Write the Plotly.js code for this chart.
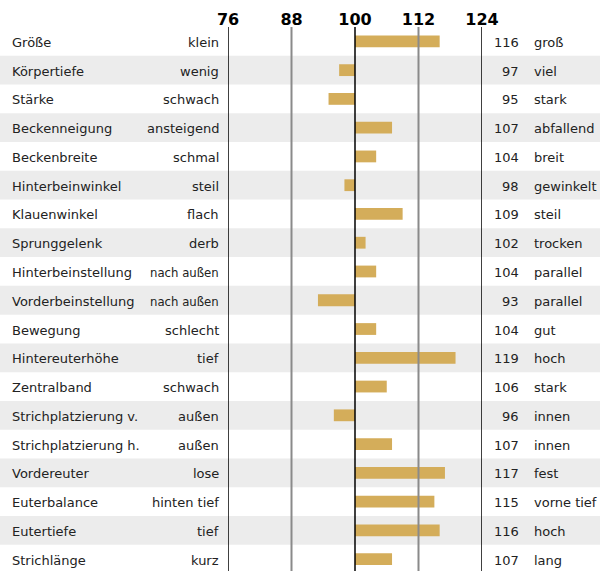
<!DOCTYPE html>
<html>
<head>
<meta charset="utf-8">
<script src="https://cdn.plot.ly/plotly-3.0.1.min.js"></script>
<style>html,body{margin:0;padding:0;background:#fff;}#chart{width:600px;height:571px;}</style>
</head>
<body>
<div id="chart"></div>
<script>
const traits = ["Größe","Körpertiefe","Stärke","Beckenneigung","Beckenbreite","Hinterbeinwinkel","Klauenwinkel","Sprunggelenk","Hinterbeinstellung","Vorderbeinstellung","Bewegung","Hintereuterhöhe","Zentralband","Strichplatzierung v.","Strichplatzierung h.","Vordereuter","Euterbalance","Eutertiefe","Strichlänge"];
const lowLabels = ["klein","wenig","schwach","ansteigend","schmal","steil","flach","derb","nach außen","nach außen","schlecht","tief","schwach","außen","außen","lose","hinten tief","tief","kurz"];
const highLabels = ["groß","viel","stark","abfallend","breit","gewinkelt","steil","trocken","parallel","parallel","gut","hoch","stark","innen","innen","fest","vorne tief","hoch","lang"];
const values = [116,97,95,107,104,98,109,102,104,93,104,119,106,96,107,117,115,116,107];
const tickValues = [76,88,100,112,124];
const baseValue = 100;

const W = 600, H = 571;
const plotL = 228, plotR = 481.7, plotT = 27.25;
const rowH = 28.75;
const plotW = plotR - plotL;
const px2paper = p => (p - plotL) / plotW;
const n = traits.length;
const yBottom = -0.5 + (H - plotT) / rowH;

const textFont = {family: "DejaVu Sans, Liberation Sans, sans-serif", size: 13, color: "#222"};
const condFont = {family: "DejaVu Sans Condensed, Liberation Sans Narrow, sans-serif", size: 13, color: "#222"};

const idx = traits.map((_, i) => i);

const annotations = [];
traits.forEach((t, i) => {
  const common = {xref: "paper", y: i, yref: "y", showarrow: false, yanchor: "middle", borderpad: 0, borderwidth: 0, yshift: -1};
  annotations.push(Object.assign({}, common, {x: px2paper(12), text: t, xanchor: "left", font: textFont}));
  const lf = lowLabels[i].indexOf("nach") === 0 ? condFont : textFont;
  annotations.push(Object.assign({}, common, {x: px2paper(219.5), text: lowLabels[i], xanchor: "right", font: lf}));
  annotations.push(Object.assign({}, common, {x: px2paper(519), text: String(values[i]), xanchor: "right", font: textFont}));
  annotations.push(Object.assign({}, common, {x: px2paper(534), text: highLabels[i], xanchor: "left", font: textFont}));
});

const shapes = [];
idx.forEach(i => {
  if (i % 2 === 1) {
    shapes.push({type: "rect", xref: "paper", yref: "y", x0: -2, x1: 2, y0: i - 0.5, y1: i + 0.5, fillcolor: "#ECECEC", line: {width: 0}, layer: "below"});
  }
});
tickValues.forEach(v => {
  const grey = (v === 88 || v === 112);
  shapes.push({type: "line", xref: "x", yref: "paper", x0: v, x1: v, y0: 0, y1: 1, line: {color: grey ? "#8a8a8a" : "#000000", width: grey ? 2 : 1.5}, layer: "above"});
});

const trace = {
  type: "bar",
  orientation: "h",
  y: idx,
  x: values.map(v => v - baseValue),
  base: baseValue,
  width: 0.41,
  marker: {color: "#D4AD5A", line: {width: 0}},
  hoverinfo: "skip"
};

const layout = {
  width: W, height: H,
  margin: {l: plotL, r: W - plotR, t: plotT, b: 0, pad: 0},
  paper_bgcolor: "#ffffff",
  plot_bgcolor: "rgba(0,0,0,0)",
  showlegend: false,
  xaxis: {
    range: [76, 124], side: "top", tickvals: tickValues, ticktext: tickValues.map(String),
    showgrid: false, zeroline: false, showline: false, ticks: "", fixedrange: true,
    ticklabelstandoff: -2,
    tickfont: {family: "DejaVu Sans, sans-serif", size: 16, color: "#000", weight: "bold"}
  },
  yaxis: {
    range: [yBottom, -0.5], showticklabels: false, showgrid: false, zeroline: false, showline: false, ticks: "", fixedrange: true
  },
  shapes: shapes,
  annotations: annotations
};

Plotly.newPlot("chart", [trace], layout, {displayModeBar: false, staticPlot: true});
</script>
</body>
</html>
